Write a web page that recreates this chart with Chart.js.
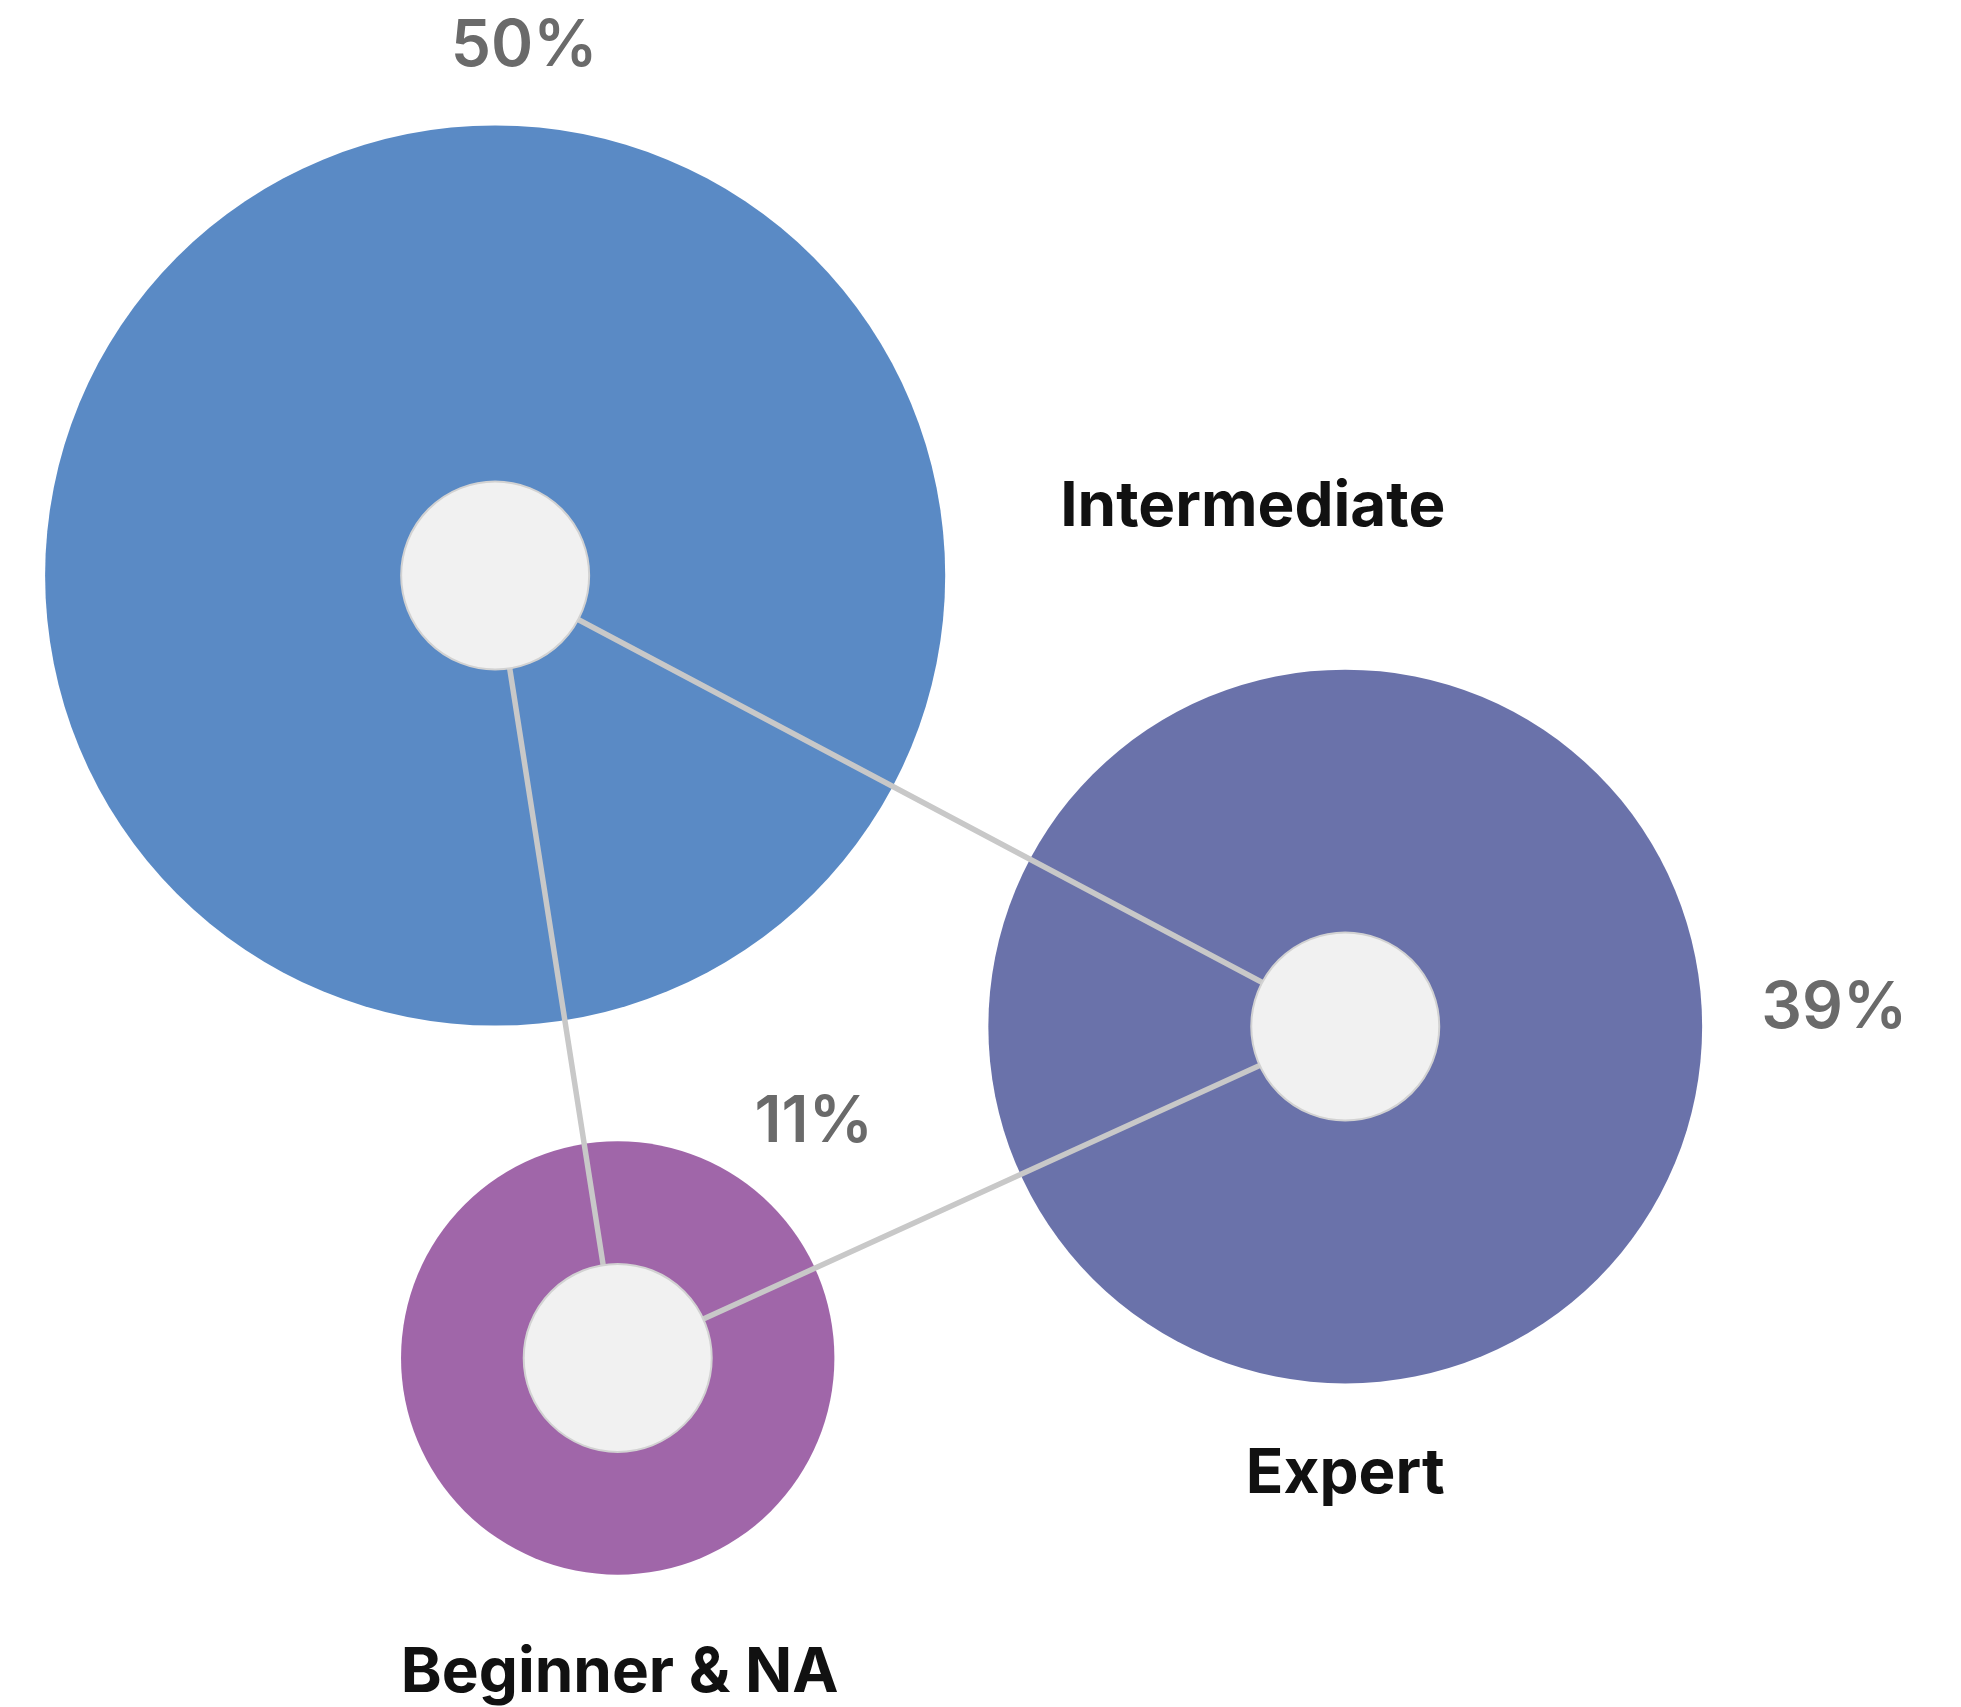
<!DOCTYPE html>
<html>
<head>
<meta charset="utf-8">
<script src="https://cdn.jsdelivr.net/npm/chart.js@4.4.1/dist/chart.umd.min.js"></script>
<style>
  html, body { margin: 0; padding: 0; background: #fff; }
  canvas { display: block; }
</style>
</head>
<body>
<canvas id="chart" width="1961" height="1707"></canvas>
<script>
// skill level groups
const categories = ["Intermediate", "Expert", "Beginner & NA"];
const shares = [50, 39, 11];
// layout (x 0-100, y 0-87, same unit on both)
const posX = [25.25, 68.6, 31.5];
const posY = [57.7, 34.7, 17.8];
const bubbleSize = [22.95, 18.2, 11.05];
// links between groups
const links = [[0, 1], [1, 2], [2, 0]];

const colors = ["#5a8ac5", "#6a72aa", "#a066a9"];

const W = 1961;
const unit = W / 100;

const points = categories.map((c, i) => ({x: posX[i], y: posY[i]}));
const linkPath = [];
links.forEach(([a, b]) => { linkPath.push(points[a], points[b], {x: null, y: null}); });

// where each label sits relative to its bubble (pixels, baseline)
const labelLayout = [
  {name: {dx: 565, dy: -50, align: "left"}, share: {dx: 29, dy: -510, align: "center"}},
  {name: {dx: 0, dy: 466, align: "center"}, share: {dx: 489, dy: 1, align: "center"}},
  {name: {dx: 2, dy: 334, align: "center"}, share: {dx: 196, dy: -216, align: "center"}},
];

const bubbleLabels = {
  id: "bubbleLabels",
  afterDatasetsDraw(chart) {
    const ctx = chart.ctx;
    const xs = chart.scales.x, ys = chart.scales.y;
    ctx.save();
    ctx.textBaseline = "alphabetic";
    categories.forEach((c, i) => {
      const cx = xs.getPixelForValue(posX[i]);
      const cy = ys.getPixelForValue(posY[i]);
      const l = labelLayout[i];
      ctx.font = "bold 62px Inter, Roboto, sans-serif";
      ctx.fillStyle = "#111";
      ctx.textAlign = l.name.align;
      ctx.fillText(c, cx + l.name.dx, cy + l.name.dy);
      ctx.font = "600 64px Inter, Roboto, sans-serif";
      ctx.fillStyle = "#6a6a6a";
      ctx.textAlign = l.share.align;
      ctx.fillText(shares[i] + "%", cx + l.share.dx, cy + l.share.dy);
    });
    ctx.restore();
  }
};

new Chart(document.getElementById("chart"), {
  type: "bubble",
  data: {
    datasets: [
      {
        type: "scatter",
        data: points,
        pointRadius: 94,
        pointBackgroundColor: "#f1f1f1",
        pointBorderColor: "#d2d2d2",
        pointBorderWidth: 2,
        showLine: false,
        clip: false,
        order: 1
      },
      {
        type: "scatter",
        data: linkPath,
        showLine: true,
        spanGaps: false,
        borderColor: "#c8c8c8",
        borderWidth: 5.5,
        pointRadius: 0,
        clip: false,
        order: 2
      },
      {
        data: points.map((p, i) => ({x: p.x, y: p.y, r: bubbleSize[i] * unit})),
        backgroundColor: colors,
        borderWidth: 0,
        clip: false,
        order: 3
      }
    ]
  },
  options: {
    responsive: false,
    animation: false,
    events: [],
    devicePixelRatio: 1,
    layout: {padding: 0, autoPadding: false},
    plugins: {legend: {display: false}, tooltip: {enabled: false}},
    scales: {
      x: {type: "linear", min: 0, max: 100, display: false},
      y: {type: "linear", min: 0, max: 1707 / unit, display: false}
    }
  },
  plugins: [bubbleLabels]
});
</script>
</body>
</html>
